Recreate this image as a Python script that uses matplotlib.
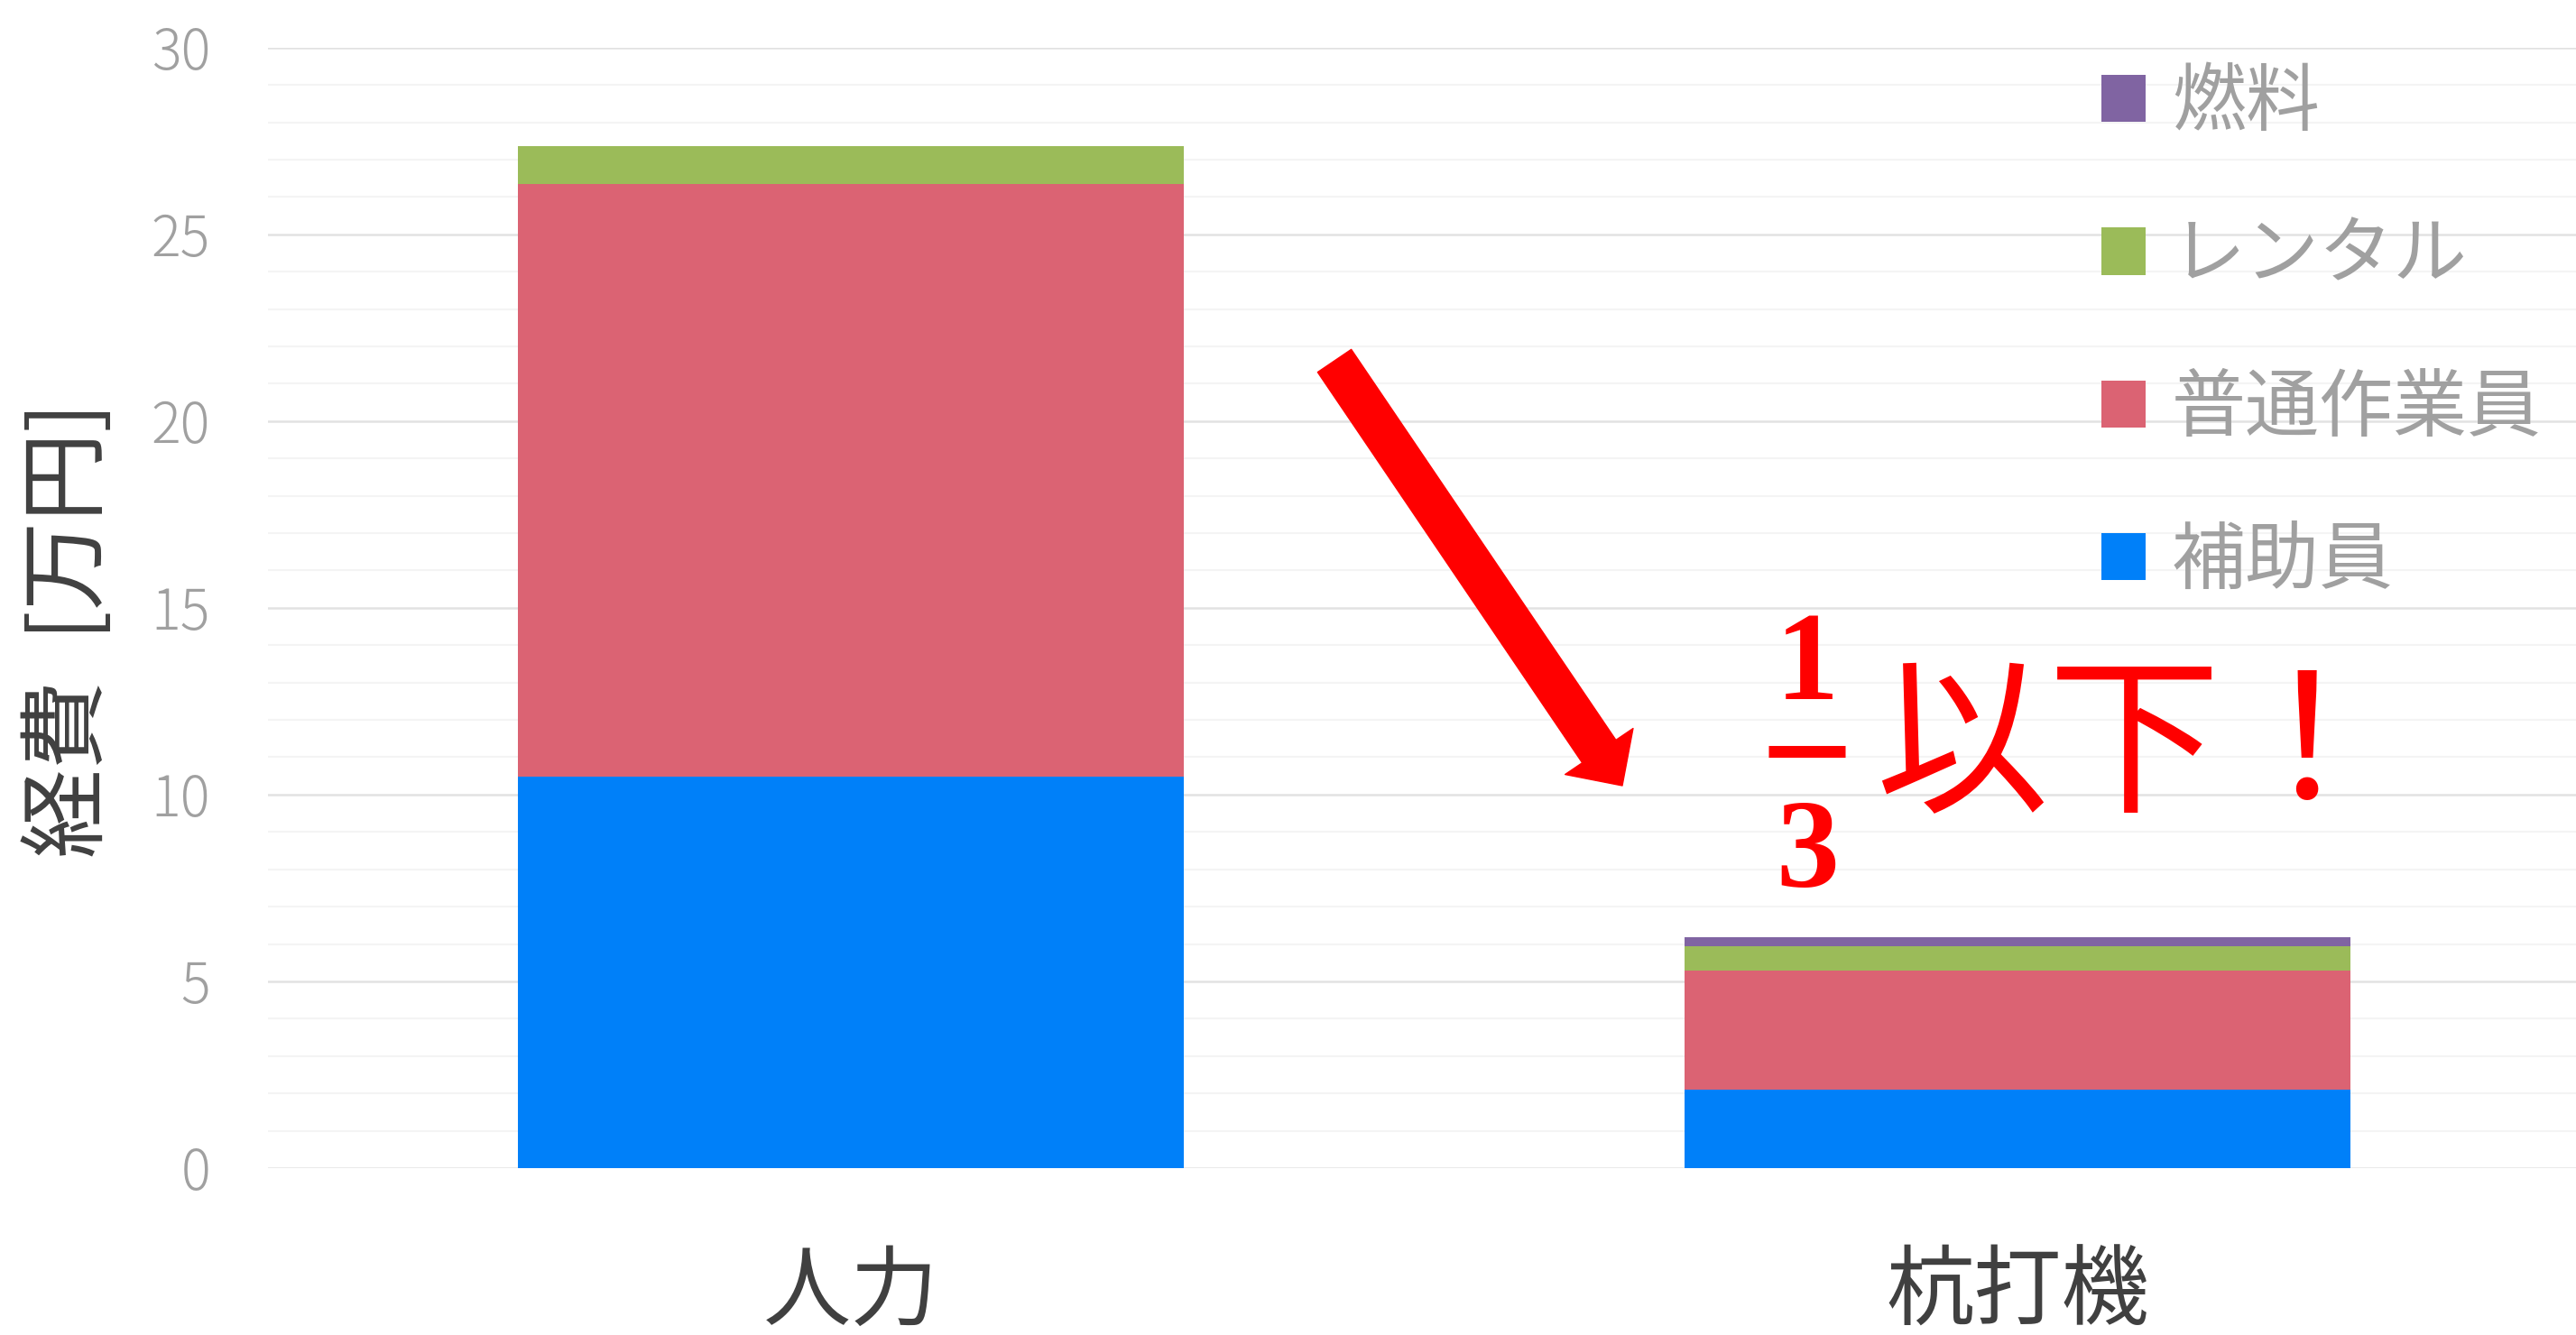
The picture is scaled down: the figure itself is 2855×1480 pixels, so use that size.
import matplotlib
matplotlib.use('Agg')
import matplotlib.pyplot as plt
from matplotlib.lines import Line2D
from matplotlib.ticker import MultipleLocator

plt.rcParams['font.family'] = ['Noto Sans CJK JP', 'DejaVu Sans']

categories = ['人力', '杭打機']
hojoin = [10.47, 2.10]
futsu = [15.88, 3.20]
rental = [1.00, 0.64]
nenryo = [0.0, 0.24]
series_names = ['補助員', '普通作業員', 'レンタル', '燃料']
series_colors = ['#0080F9', '#DB6373', '#9BBB59', '#8064A2']
yticks = [0, 5, 10, 15, 20, 25, 30]

W, H = 2855, 1480


def fig_xy(px, py):
    # reference pixel position -> figure fraction
    return px / W, 1 - py / H


def main():
    fig = plt.figure(figsize=(W / 100, H / 100), dpi=100)
    ax = fig.add_axes([297 / W, 1 - 1295 / H, 1 - 297 / W, (1295 - 52.7) / H])

    x = list(range(len(categories)))
    bottom = [0] * len(categories)
    handles = []
    for vals, name, color in zip([hojoin, futsu, rental, nenryo], series_names, series_colors):
        b = ax.bar(x, vals, 0.571, bottom=bottom, color=color, label=name, zorder=3)
        handles.append(b)
        bottom = [a + v for a, v in zip(bottom, vals)]

    ax.set_xlim(-0.5, 1.479)
    ax.set_ylim(0, 30)
    ax.set_yticks(yticks)
    ax.yaxis.set_minor_locator(MultipleLocator(1))
    ax.set_xticks(x, categories)
    ax.grid(which='major', axis='y', color='#e2e2e2', lw=1.8)
    ax.grid(which='minor', axis='y', color='#f4f4f4', lw=1.5)
    ax.set_axisbelow(True)
    for s in ax.spines.values():
        s.set_visible(False)
    ax.tick_params(axis='both', which='both', length=0)
    ax.tick_params(axis='y', labelsize=44, labelcolor='#a0a0a0', pad=46)
    ax.tick_params(axis='x', labelsize=70, labelcolor='#404040', pad=64)
    plt.setp(ax.get_yticklabels(), fontweight='light')

    ax.set_ylabel('経費  [万円]', fontsize=71, color='#404040', va='center')
    ax.yaxis.set_label_coords(-0.0855, 0.48)

    ax.legend(handles[::-1], series_names[::-1], loc='upper left',
              bbox_to_anchor=fig_xy(2329, 72), bbox_transform=fig.transFigure,
              frameon=False, fontsize=59, labelcolor='#a0a0a0',
              handlelength=0.6, handleheight=0.6, handletextpad=0.35,
              labelspacing=1.03, borderpad=0, borderaxespad=0)

    # red arrow and "1/3 以下!" note
    ax.annotate('', xy=fig_xy(1798, 871), xytext=fig_xy(1479, 400),
                xycoords='figure fraction', textcoords='figure fraction',
                arrowprops=dict(arrowstyle='simple,head_width=0.655,head_length=0.33,tail_width=0.324',
                                mutation_scale=100, color='red', shrinkA=0, shrinkB=0))
    fig.text(*fig_xy(2003, 775), '1', fontsize=101, color='red', fontweight='bold',
             family='Liberation Serif', ha='center', va='baseline')
    fig.text(*fig_xy(2003, 983), '3', fontsize=101, color='red', fontweight='bold',
             family='Liberation Serif', ha='center', va='baseline')
    x0, y0 = fig_xy(1960, 833)
    x1, _ = fig_xy(2045, 833)
    fig.add_artist(Line2D([x0, x1], [y0, y0], color='red', lw=9.4, solid_capstyle='butt'))
    fig.text(*fig_xy(2078, 886), '以下！', fontsize=138, color='red', ha='left', va='baseline')

    fig.savefig('out.png', dpi=100)


if __name__ == "__main__":
    main()
